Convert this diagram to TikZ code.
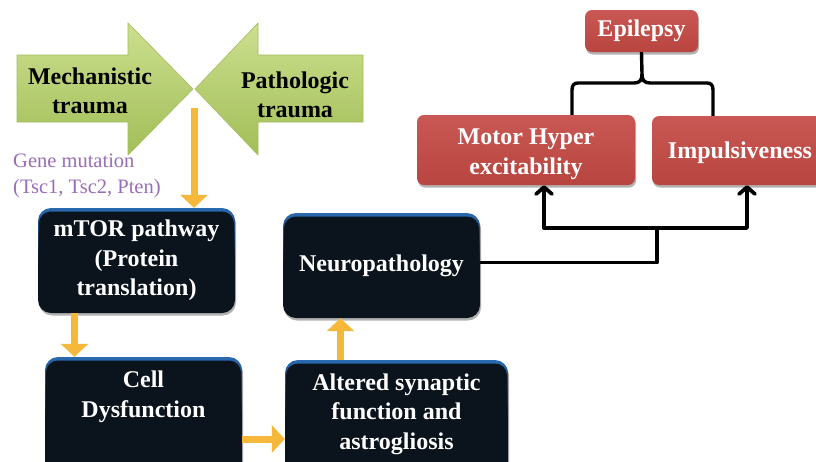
\documentclass[tikz,border=0pt]{standalone}
\usepackage{fontspec}
\setmainfont{Liberation Serif}
\usetikzlibrary{arrows.meta,shadows,calc}

\definecolor{greentop}{HTML}{CCDF8E}
\definecolor{greenmid}{HTML}{B7CF6D}
\definecolor{greenbot}{HTML}{A2BE58}
\definecolor{greenedge}{HTML}{A3BE5E}
\definecolor{boxdark}{HTML}{0B131D}
\definecolor{rimblue}{HTML}{2A6AB0}
\definecolor{redtop}{HTML}{C95753}
\definecolor{redbot}{HTML}{B8453F}
\definecolor{arrorange}{HTML}{F6B83A}
\definecolor{genepurple}{HTML}{9A6CB8}

\tikzset{
  bigtext/.style={font=\bfseries\fontsize{24}{29.5}\selectfont, align=center},
  whitetext/.style={bigtext, text=white},
  blackbox/.style={rounded corners=13pt, top color=rimblue, bottom color=boxdark,
    middle color=boxdark, inner sep=0pt,
    drop shadow={shadow xshift=1pt, shadow yshift=-2.5pt, opacity=.3, fill=black},
    path picture={\fill[boxdark, rounded corners=12pt]
      ([xshift=1pt,yshift=-3.5pt]path picture bounding box.north west) rectangle
      ([xshift=-1pt,yshift=0.5pt]path picture bounding box.south east);}},
  redbox/.style={rounded corners=7pt, top color=redtop, bottom color=redbot,
    draw=none, inner sep=0pt,
    drop shadow={shadow xshift=1pt, shadow yshift=-2.5pt, opacity=.3, fill=black}},
  orangearr/.style={draw=arrorange, line width=7pt,
    -{Triangle[length=13pt,width=27pt]}},
  bline/.style={draw=black, line width=3.4pt, line join=round},
  barrow/.style={bline, -{Straight Barb[length=7pt,width=16pt,line width=0pt 1.1,round]}},
}

\begin{document}
\begin{tikzpicture}[x=1pt,y=-1pt]
\useasboundingbox (0,0) rectangle (816,461);
\clip (0,0) rectangle (816,461);
\fill[white] (0,0) rectangle (816,461);

% converging green block arrows
\shade[top color=greentop, middle color=greenmid, bottom color=greenbot, draw=greenedge, line width=0.6pt]
  (17,55) -- (128,55) -- (128,23) -- (193,89) -- (128,155) -- (128,122) -- (17,122) -- cycle;
\shade[top color=greentop, middle color=greenmid, bottom color=greenbot, draw=greenedge, line width=0.6pt]
  (363,55) -- (258,55) -- (258,23) -- (195,89) -- (258,155) -- (258,122) -- (363,122) -- cycle;
\node[bigtext] (mech) at (90,91) {Mechanistic\\trauma};
\node[bigtext] (patho) at (295,95) {Pathologic\\trauma};

\node[text=genepurple, font=\fontsize{20.5}{26}\selectfont, align=left, anchor=west, inner sep=0pt]
  (gene) at (13,176) {Gene mutation\\(Tsc1, Tsc2, Pten)};

% dark process boxes
\node[blackbox, minimum width=197pt, minimum height=105pt] (mtor) at (136.5,260.5) {};
\node[whitetext] (mtortxt) at (mtor.center) {mTOR pathway\\(Protein\\translation)};

\node[blackbox, minimum width=197pt, minimum height=105pt] (neuro) at (381.5,265.5) {};
\node[whitetext] (neurotxt) at (neuro.center) {Neuropathology};

\node[blackbox, minimum width=197pt, minimum height=120pt] (cellbox) at (143.5,417) {};
\node[whitetext] (celltxt) at (143.5,397) {Cell\\Dysfunction};

\node[blackbox, minimum width=223pt, minimum height=120pt] (altbox) at (396.5,420) {};
\node[whitetext] (alttxt) at (396.5,414) {Altered synaptic\\function and\\astrogliosis};

% red outcome boxes
\node[redbox, minimum width=113pt, minimum height=42pt] (epi) at (641.5,31) {};
\node[whitetext] (epitxt) at (epi.center) {Epilepsy};

\node[redbox, minimum width=218pt, minimum height=70pt] (motor) at (526,150) {};
\node[whitetext] (motortxt) at (526,154) {Motor Hyper\\excitability};

\node[redbox, minimum width=178pt, minimum height=69pt] (impuls) at (741,150.5) {};
\node[whitetext] (impulstxt) at (740,153) {Impulsiveness};

% orange flow arrows
\coordinate (tip) at (194,108);
\draw[orangearr] (tip) -- (tip |- mtor.north);
\draw[orangearr] ([xshift=-62pt]mtor.south) -- ([xshift=-69pt]cellbox.north);
\draw[orangearr] (cellbox.east |- 0,439) -- (altbox.west |- 0,439);
\draw[orangearr] ([xshift=-56pt]altbox.north) -- ([xshift=-41pt]neuro.south);

% neuropathology feeds both symptoms
\coordinate (split) at (657,228);
\draw[bline] ([yshift=3pt]neuro.east) -| (split);
\draw[barrow] (split) -| ([xshift=18pt]motor.south);
\draw[barrow] (split) -| ([xshift=6pt]impuls.south);

% brace joining the two symptoms into epilepsy
\coordinate (brc) at (642,74);
\coordinate (brL) at (572,83);
\coordinate (brR) at (713,83);
\draw[bline] (epi.south) -- (brc);
\draw[bline] (brc) .. controls (642,80) and (640,83) .. (634,83) -- (578,83)
  .. controls (574,83) and (572,85) .. (572,90) -- (brL |- motor.north);
\draw[bline] (brc) .. controls (642,80) and (644,83) .. (650,83) -- (707,83)
  .. controls (711,83) and (713,85) .. (713,90) -- (brR |- impuls.north);
\end{tikzpicture}
\end{document}
